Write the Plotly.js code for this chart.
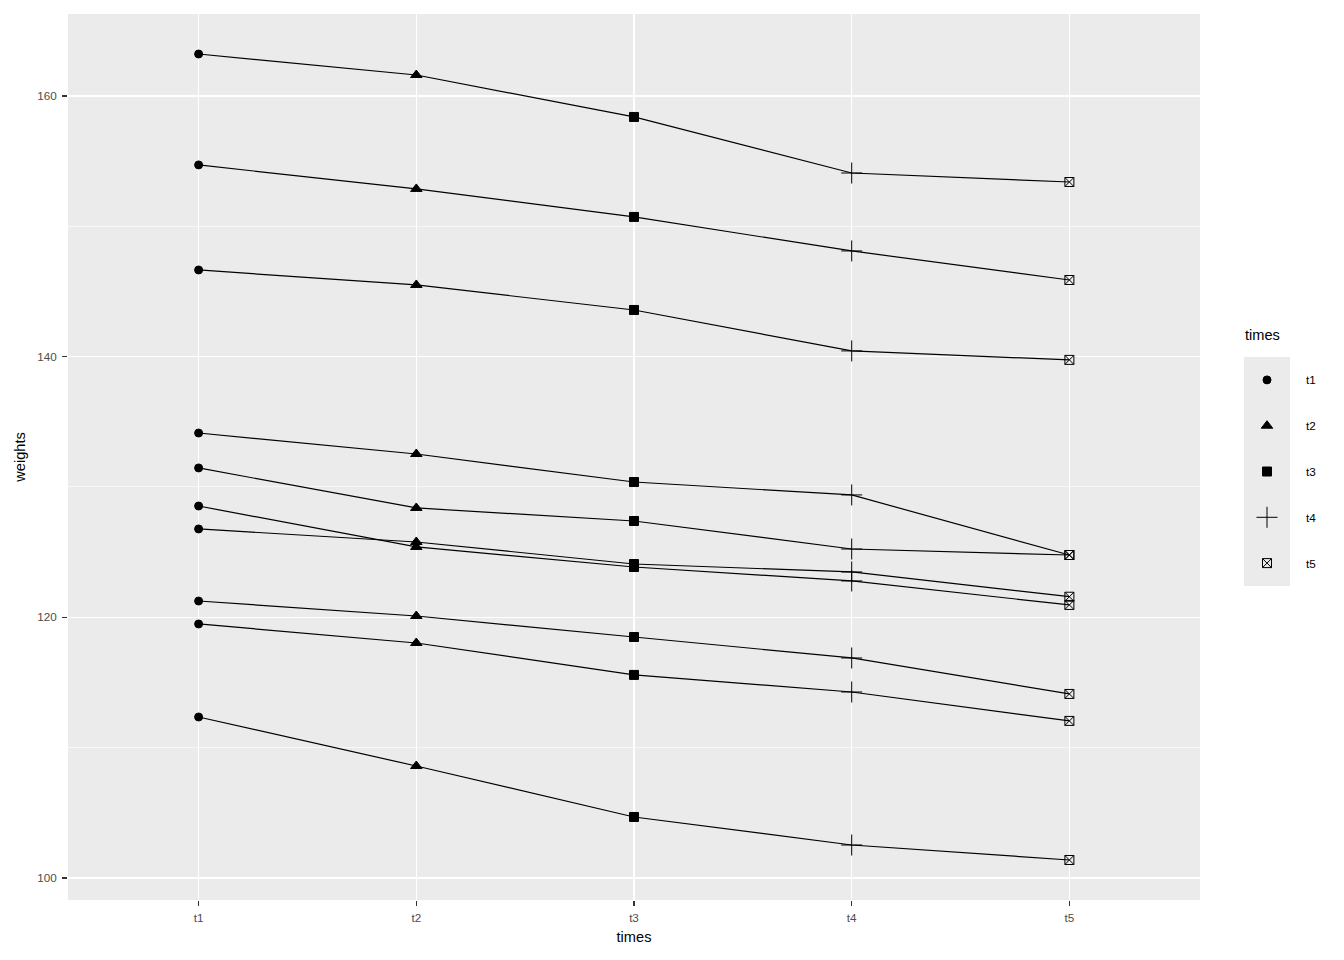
<!DOCTYPE html>
<html>
<head>
<meta charset="utf-8">
<script src="https://cdn.plot.ly/plotly-3.0.1.min.js"></script>
<style>html,body{margin:0;padding:0;background:#fff;}#chart{width:1344px;height:960px;}</style>
</head>
<body>
<div id="chart"></div>
<script>
// Data
var times = ['t1', 't2', 't3', 't4', 't5'];
var s1  = [163.22, 161.61, 158.39, 154.09, 153.40];
var s2  = [154.71, 152.87, 150.72, 148.11, 145.88];
var s3  = [146.65, 145.50, 143.58, 140.44, 139.75];
var s4  = [134.14, 132.53, 130.38, 129.39, 124.78];
var s5  = [131.46, 128.39, 127.39, 125.24, 124.78];
var s6  = [128.54, 125.40, 123.86, 122.79, 120.95];
var s7  = [126.78, 125.78, 124.09, 123.48, 121.58];
var s8  = [121.25, 120.10, 118.49, 116.88, 114.12];
var s9  = [119.49, 118.03, 115.58, 114.27, 112.05];
var s10 = [112.35, 108.59, 104.68, 102.53, 101.38];
var subjects = [s1, s2, s3, s4, s5, s6, s7, s8, s9, s10];
var legendLabels = ['t1', 't2', 't3', 't4', 't5'];
var yTicks = [100, 120, 140, 160];
var yMinorTicks = [110, 130, 150];

var symbols = ['circle', 'triangle-up', 'square', 'cross-thin-open', 'square-x-open'];
var sizes = [8, 10, 9, 15, 9];
var FONT = 'Liberation Sans, Arial, sans-serif';

var traces = [];
subjects.forEach(function (s) {
  traces.push({
    x: times, y: s, type: 'scatter', mode: 'lines',
    line: {color: '#000000', width: 1.2}, showlegend: false, hoverinfo: 'skip'
  });
});
times.forEach(function (t, i) {
  traces.push({
    x: subjects.map(function () { return t; }),
    y: subjects.map(function (s) { return s[i]; }),
    type: 'scatter', mode: 'markers', showlegend: false,
    marker: {symbol: symbols[i], size: sizes[i], color: '#000000',
             line: {color: '#000000', width: 1}}
  });
});
// legend keys (custom legend panel)
legendLabels.forEach(function (t, i) {
  traces.push({
    x: [0], y: [i], xaxis: 'x2', yaxis: 'y2', type: 'scatter', mode: 'markers',
    showlegend: false, hoverinfo: 'skip',
    marker: {symbol: symbols[i], size: sizes[i], color: '#000000',
             line: {color: '#000000', width: 1}}
  });
});

var W = 1266; // paper width in px (68..1334)
function px2x(p) { return (p - 68) / W; }

var annotations = [{
  text: 'times', xref: 'paper', yref: 'paper', x: px2x(1243), y: (900 - 335) / 886,
  xanchor: 'left', yanchor: 'middle', showarrow: false,
  font: {family: FONT, size: 14.6, color: '#000000'}
}];
legendLabels.forEach(function (t, i) {
  annotations.push({
    text: t, xref: 'paper', yref: 'y2', x: px2x(1304), y: i,
    xanchor: 'left', yanchor: 'middle', showarrow: false,
    font: {family: FONT, size: 11.7, color: '#000000'}
  });
});

var layout = {
  width: 1344, height: 960,
  margin: {l: 68, r: 10, t: 14, b: 60},
  paper_bgcolor: '#FFFFFF', plot_bgcolor: '#EBEBEB',
  font: {family: FONT, color: '#000000'},
  showlegend: false,
  xaxis: {
    domain: [0, (1200 - 68) / W],
    type: 'category', categoryarray: times, categoryorder: 'array',
    range: [-0.6, 4.6], showgrid: true, gridcolor: '#FFFFFF', gridwidth: 1.4,
    zeroline: false, showline: false,
    ticks: 'outside', ticklen: 5, tickwidth: 1.1, tickcolor: '#333333',
    ticklabelstandoff: 2,
    tickfont: {size: 11.7, color: '#4D4D4D'},
    title: {text: 'times', font: {size: 14.6, color: '#000000'}, standoff: 8}
  },
  yaxis: {
    range: [98.31, 166.29], tickvals: yTicks,
    showgrid: true, gridcolor: '#FFFFFF', gridwidth: 1.4,
    minor: {tickvals: yMinorTicks, showgrid: true, gridcolor: '#FFFFFF', gridwidth: 0.6, ticks: ''},
    zeroline: false, showline: false,
    ticks: 'outside', ticklen: 5, tickwidth: 1.1, tickcolor: '#333333',
    ticklabelstandoff: 3,
    tickfont: {size: 11.7, color: '#4D4D4D'},
    title: {text: 'weights', font: {size: 14.6, color: '#000000'}, standoff: 8}
  },
  xaxis2: {
    domain: [px2x(1244), px2x(1290)], anchor: 'y2', range: [-0.5, 0.5],
    showgrid: false, zeroline: false, showticklabels: false, ticks: '', showline: false, fixedrange: true
  },
  yaxis2: {
    domain: [(900 - 586) / 886, (900 - 357) / 886], anchor: 'x2', range: [4.5, -0.5],
    showgrid: false, zeroline: false, showticklabels: false, ticks: '', showline: false, fixedrange: true
  },
  annotations: annotations
};

Plotly.newPlot('chart', traces, layout, {displayModeBar: false, staticPlot: true});
</script>
</body>
</html>
